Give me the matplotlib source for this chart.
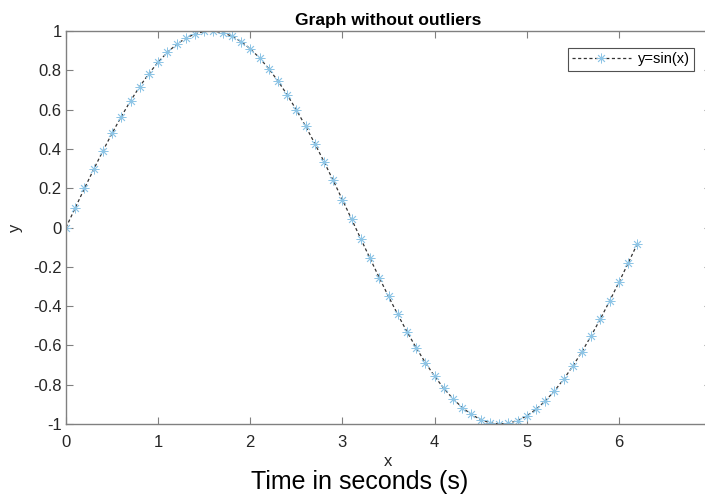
import matplotlib
matplotlib.use("Agg")
import matplotlib.pyplot as plt

plt.rcParams['font.family'] = ['Liberation Sans', 'DejaVu Sans']

# data
x_vals = [0.0, 0.1, 0.2, 0.3, 0.4, 0.5, 0.6, 0.7, 0.8, 0.9,
          1.0, 1.1, 1.2, 1.3, 1.4, 1.5, 1.6, 1.7, 1.8, 1.9,
          2.0, 2.1, 2.2, 2.3, 2.4, 2.5, 2.6, 2.7, 2.8, 2.9,
          3.0, 3.1, 3.2, 3.3, 3.4, 3.5, 3.6, 3.7, 3.8, 3.9,
          4.0, 4.1, 4.2, 4.3, 4.4, 4.5, 4.6, 4.7, 4.8, 4.9,
          5.0, 5.1, 5.2, 5.3, 5.4, 5.5, 5.6, 5.7, 5.8, 5.9,
          6.0, 6.1, 6.2]
y_vals = [0.0, 0.0998, 0.1987, 0.2955, 0.3894, 0.4794, 0.5646, 0.6442, 0.7174, 0.7833,
          0.8415, 0.8912, 0.9320, 0.9636, 0.9854, 0.9975, 0.9996, 0.9917, 0.9738, 0.9463,
          0.9093, 0.8632, 0.8085, 0.7457, 0.6755, 0.5985, 0.5155, 0.4274, 0.3350, 0.2392,
          0.1411, 0.0416, -0.0584, -0.1577, -0.2555, -0.3508, -0.4425, -0.5298, -0.6119, -0.6878,
          -0.7568, -0.8183, -0.8716, -0.9162, -0.9516, -0.9775, -0.9937, -0.9999, -0.9962, -0.9825,
          -0.9589, -0.9258, -0.8835, -0.8323, -0.7728, -0.7055, -0.6313, -0.5507, -0.4646, -0.3739,
          -0.2794, -0.1822, -0.0831]
x_ticks = [0, 1, 2, 3, 4, 5, 6, 7]
y_ticks = [-1, -0.8, -0.6, -0.4, -0.2, 0, 0.2, 0.4, 0.6, 0.8, 1]
y_ticklabels = ['-1', '-0.8', '-0.6', '-0.4', '-0.2', '0', '0.2', '0.4', '0.6', '0.8', '1']

W, H = 705, 500
fig = plt.figure(figsize=(W / 100, H / 100), dpi=100)
# axes runs past the right edge like the cropped original
ax = fig.add_axes([66 / W, (H - 424) / H, 645 / W, 393 / H])

# MATLAB-style '*' marker = asterisk
ax.plot(x_vals, y_vals, color='#333333', linestyle=(0, (2.5, 2)), linewidth=0.9,
        marker=(8, 2, 0), markersize=7, markeredgecolor='#8ec5e6',
        markeredgewidth=0.6, label='y=sin(x)')

ax.set_xlim(0, 7)
ax.set_ylim(-1, 1)
ax.set_xticks(x_ticks)
ax.set_yticks(y_ticks)
ax.set_xticklabels([str(t) for t in x_ticks])
ax.set_yticklabels(y_ticklabels)

gray = '#808080'
for s in ax.spines.values():
    s.set_color(gray)
    s.set_linewidth(1.0)
ax.tick_params(direction='in', length=5, width=0.8, color=gray, labelsize=12,
               labelcolor='#262626', top=True, right=True)
ax.tick_params(axis='x', pad=8)
ax.tick_params(axis='y', pad=3)

ax.set_title('Graph without outliers', fontsize=12.5, fontweight='bold', pad=4)
ax.set_xlabel('x', fontsize=12, labelpad=3, color='#262626')
ax.set_ylabel('y', fontsize=12, labelpad=7, color='#262626')

leg = ax.legend(loc='upper right', bbox_to_anchor=(0.974, 0.957), fontsize=10.5,
                frameon=True, fancybox=False, borderpad=0.3, handlelength=4.0,
                handletextpad=0.5, borderaxespad=0)
leg.get_frame().set_edgecolor('#262626')
leg.get_frame().set_linewidth(0.8)

fig.text(360 / W, 1 - 482 / H, 'Time in seconds (s)', fontsize=18,
         ha='center', va='center', color='black')

fig.savefig('out.png', dpi=100)
